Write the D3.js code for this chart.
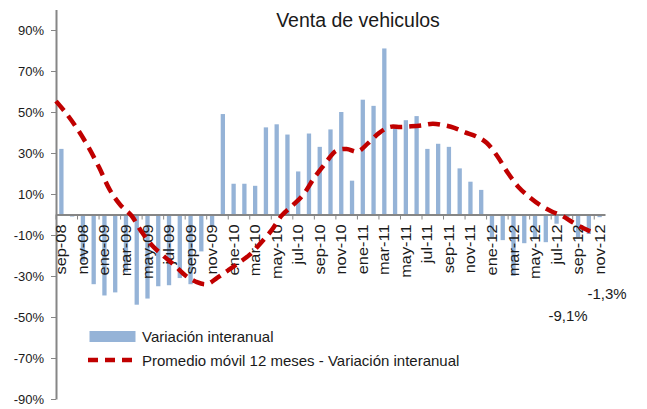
<!DOCTYPE html>
<html>
<head>
<meta charset="utf-8">
<script src="https://cdn.jsdelivr.net/npm/d3@7"></script>
<style>
  html, body { margin: 0; padding: 0; background: #fff; }
  svg { display: block; font-family: "Liberation Sans", Arial, sans-serif; }
</style>
</head>
<body>
<svg id="chart" width="647" height="409"></svg>
<script>
// Monthly categories, sep-08 .. nov-12
const months = [
  "sep-08","oct-08","nov-08","dic-08",
  "ene-09","feb-09","mar-09","abr-09","may-09","jun-09","jul-09","ago-09","sep-09","oct-09","nov-09","dic-09",
  "ene-10","feb-10","mar-10","abr-10","may-10","jun-10","jul-10","ago-10","sep-10","oct-10","nov-10","dic-10",
  "ene-11","feb-11","mar-11","abr-11","may-11","jun-11","jul-11","ago-11","sep-11","oct-11","nov-11","dic-11",
  "ene-12","feb-12","mar-12","abr-12","may-12","jun-12","jul-12","ago-12","sep-12","oct-12","nov-12"
];

// Year-on-year change (%)
const variacion = [
  32, -1, -23, -34,
  -39.5, -38, -28, -44, -41, -35, -34.5, -31, -34, -18, -6, 49,
  15, 15, 14, 42.5, 44, 39, 21, 39.5, 33, 41.5, 50, 16.5,
  56, 53, 81, 43, 46, 48, 32, 34.5, 33, 22.5, 16, 12,
  -11, -12.5, -30, -14, -12, -13.5, -4.5, -1.2, -11, -9.5, -1.3
];

// 12-month moving average of the year-on-year change (%)
const promedio = [
  55.3, 49, 41.6, 33,
  23, 12, 4.5, -0.5, -8.8, -15.5, -20.3, -24.7, -29.6, -32.8, -34, -30.8,
  -27.2, -23.5, -19.6, -14, -7.9, -0.3, 4.5, 9.9, 18, 24.8, 31, 32,
  30.7, 34.8, 39.7, 42.7, 42.7, 43, 43.5, 44.3, 43.6, 42.3, 40.1, 38.2,
  35, 28.4, 20.1, 13.2, 8.4, 4.5, 1.6, -0.6, -3.8, -6.7, -9.1
];

const yTicks = [-90, -70, -50, -30, -10, 10, 30, 50, 70, 90];
const xTickLabels = months.filter((d, i) => i % 2 === 0);

const title = "Venta de vehiculos";
const legendBar = "Variación interanual";
const legendLine = "Promedio móvil 12 meses - Variación interanual";
const endLabels = [
  { text: "-1,3%", x: 607, y: 299 },
  { text: "-9,1%", x: 568, y: 321 }
];

const fmtPct = v => v.toFixed(1).replace(".", ",") + "%";

const svg = d3.select("#chart");
const axisColor = "#868686";
const barColor = "#95B3D7";
const lineColor = "#C00000";
const textColor = "#1a1a1a";

const x = d3.scaleBand().domain(months).range([56, 605]).paddingInner(0).paddingOuter(0);
const y = d3.scaleLinear().domain([-90, 100]).range([399, 9.5]);
const barW = 4.3;

// Bars
svg.append("g").selectAll("rect")
  .data(months.map((m, i) => ({ m, v: variacion[i] })))
  .join("rect")
  .attr("x", d => x(d.m) + x.bandwidth() / 2 - barW / 2)
  .attr("y", d => y(Math.max(0, d.v)))
  .attr("width", barW)
  .attr("height", d => Math.abs(y(d.v) - y(0)))
  .attr("fill", barColor);

// Y axis
const yAxis = d3.axisLeft(y)
  .tickValues(yTicks)
  .tickFormat(d => d + "%")
  .tickSize(5)
  .tickSizeOuter(0)
  .tickPadding(7);
const gy = svg.append("g").attr("transform", "translate(56,0)").call(yAxis);
gy.select(".domain").attr("stroke", axisColor).attr("stroke-width", 2);
gy.selectAll(".tick line").attr("stroke", axisColor).attr("stroke-width", 1);
gy.selectAll(".tick text")
  .attr("fill", textColor)
  .style("font-size", "13px")
  .style("font-family", "'Liberation Sans', Arial, sans-serif");

// X axis along zero, ticks every second month at the band edge
const xAxis = d3.axisBottom(x)
  .tickValues(xTickLabels)
  .tickSize(5)
  .tickSizeOuter(0)
  .tickFormat("");
const gx = svg.append("g").attr("transform", `translate(0,${y(0)})`).call(xAxis);
gx.select(".domain").attr("stroke", axisColor).attr("stroke-width", 2);
gx.selectAll(".tick line")
  .attr("stroke", axisColor)
  .attr("stroke-width", 1)
  .attr("transform", `translate(${-x.bandwidth() / 2},0)`);

// Rotated month labels
svg.append("g").selectAll("text")
  .data(xTickLabels)
  .join("text")
  .attr("transform", d => `translate(${x(d) + x.bandwidth() / 2},${y(0) + 10}) rotate(-90) scale(1.17,1)`)
  .attr("text-anchor", "end")
  .attr("dy", "0.36em")
  .attr("fill", textColor)
  .style("font-size", "14px")
  .text(d => d);

// Moving-average line
const line = d3.line()
  .x((d, i) => x(months[i]))
  .y(d => y(d))
  .curve(d3.curveCatmullRom.alpha(0.5));
svg.append("path")
  .datum(promedio)
  .attr("d", line)
  .attr("fill", "none")
  .attr("stroke", lineColor)
  .attr("stroke-width", 4.5)
  .attr("stroke-dasharray", "12,7");

// Title
svg.append("text")
  .attr("x", 358)
  .attr("y", 26.5)
  .attr("text-anchor", "middle")
  .attr("fill", textColor)
  .style("font-size", "19.5px")
  .text(title);

// End values
svg.append("g").selectAll("text")
  .data(endLabels)
  .join("text")
  .attr("x", d => d.x)
  .attr("y", d => d.y)
  .attr("text-anchor", "middle")
  .attr("fill", textColor)
  .style("font-size", "15px")
  .text(d => d.text);

// Legend
const lg = svg.append("g");
lg.append("rect").attr("x", 89.5).attr("y", 331).attr("width", 46).attr("height", 11).attr("fill", barColor);
lg.append("text").attr("x", 142).attr("y", 341.5).attr("fill", textColor).style("font-size", "15px").text(legendBar);
lg.append("line").attr("x1", 88).attr("x2", 136).attr("y1", 360).attr("y2", 360)
  .attr("stroke", lineColor).attr("stroke-width", 4.5).attr("stroke-dasharray", "10,7");
lg.append("text").attr("x", 142).attr("y", 365.5).attr("fill", textColor).style("font-size", "15px").text(legendLine);
</script>
</body>
</html>
